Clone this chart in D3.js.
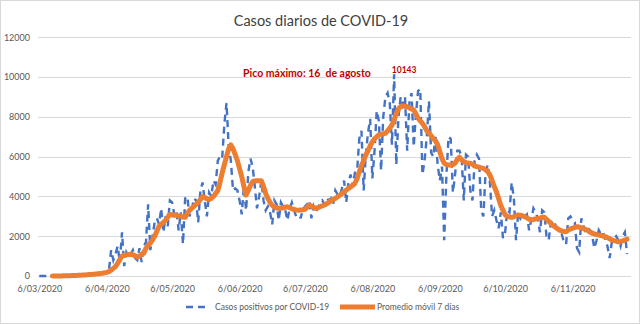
<!DOCTYPE html>
<html>
<head>
<meta charset="utf-8">
<script src="https://cdn.jsdelivr.net/npm/d3@7"></script>
<style>
  body { margin: 0; background: #fff; }
  text { font-family: Lato, "Open Sans", sans-serif; }
</style>
</head>
<body>
<div id="chart"></div>
<script>
// global sizes
var width = 640,
    height = 324;

// data, one value per day starting 6/03/2020
var startDay = "2020-03-06";

var casos = [
  0, 0, 0, 0, 1, 1,
  2, 3, 5, 6, 8, 10, 12, 15,
  18, 22, 28, 33, 40, 45, 52,
  60, 65, 75, 88, 95, 105, 120,
  130, 150, 180, 200, 300, 1300, 800,
  1100, 1500, 700, 2200, 500, 1200, 1000,
  1100, 1300, 900, 800, 1400, 700, 1500,
  1700, 3600, 1300, 2000, 2700, 2900, 2600,
  3400, 2200, 3000, 2500, 3800, 3700, 3100,
  3300, 2300, 3200, 1600, 3900, 4000, 3000,
  3300, 3900, 3800, 2700, 4300, 4700, 3800,
  3000, 4200, 4000, 4800, 4600, 5800, 6000,
  5900, 7600, 8700, 6500, 5800, 4300, 4400,
  4300, 3800, 3100, 4500, 3300, 5200, 5900,
  5500, 4500, 3400, 4000, 4800, 3800, 3300,
  3500, 3200, 2600, 3800, 3600, 2800, 3700,
  3500, 3300, 2800, 3400, 3700, 3300, 3000,
  3400, 2900, 3300, 3500, 3600, 3800, 2900,
  3500, 3200, 3400, 3700, 3800, 3600, 3900,
  3800, 3900, 3600, 4300, 4100, 4000, 4400,
  4800, 3700, 4700, 5100, 4500, 5200, 5300,
  6900, 7300, 4300, 6100, 7200, 7900, 4900,
  6300, 8300, 7800, 5300, 8000, 9000, 9200,
  8700, 6600, 10143, 5600, 8000, 9000, 8600,
  9000, 6300, 8700, 9200, 6500, 8100, 9300,
  9400, 5100, 5800, 7000, 8800, 6200, 6000,
  7000, 5600, 4800, 5500, 1800, 5000, 7000,
  6900, 4200, 5100, 6300, 6300, 6000, 3800,
  6100, 6000, 4300, 3800, 5800, 6100, 5900,
  3300, 3000, 5200, 5600, 4700, 3000, 3300,
  2800, 2400, 3200, 1900, 2200, 3300, 3200,
  4700, 3900, 1800, 3200, 2900, 3100, 3000,
  3100, 2300, 2800, 3400, 3200, 2900, 2200,
  3300, 3200, 2000, 1800, 2700, 2800, 2600,
  2400, 2200, 2100, 1700, 1600, 2900, 3000,
  2800, 2700, 1400, 1200, 2900, 2500, 2200,
  2400, 2300, 2000, 1400, 1800, 2300, 2100,
  2200, 1800, 1500, 900, 1700, 1900, 2000,
  1800, 1500, 2000, 2200, 1100
];

var promedio = [
  null, null, null, null, null, null,
  0, 1, 2, 3, 5, 7, 9, 12,
  15, 19, 24, 29, 35, 41, 48,
  55, 62, 70, 80, 90, 100, 112,
  125, 140, 160, 185, 220, 290, 380,
  470, 640, 830, 1000, 1040, 1060, 1080,
  1090, 1070, 1020, 950, 1000, 1100, 1150,
  1400, 1550, 1650, 1820, 2000, 2250, 2500,
  2600, 2700, 2800, 2950, 3100, 3080, 3050,
  3050, 3020, 3000, 2970, 2950, 3150, 3300,
  3400, 3500, 3600, 3700, 3850, 4000, 3950,
  3880, 3850, 3900, 4000, 4150, 4300, 4700,
  5180, 5600, 6000, 6400, 6590, 6400, 6100,
  5800, 5400, 5000, 4500, 4070, 4300, 4550,
  4740, 4780, 4790, 4790, 4790, 4500, 4150,
  3900, 3700, 3550, 3480, 3420, 3400, 3400,
  3430, 3460, 3480, 3440, 3380, 3340, 3320,
  3310, 3320, 3330, 3350, 3450, 3570, 3520,
  3450, 3400, 3430, 3480, 3530, 3570, 3630,
  3700, 3780, 3850, 3900, 3980, 4060, 4140,
  4240, 4320, 4400, 4480, 4560, 4660, 4900,
  5240, 5550, 5800, 6080, 6300, 6550, 6750,
  6900, 7000, 7090, 7120, 7150, 7170, 7300,
  7430, 7590, 7850, 8180, 8400, 8520, 8550,
  8530, 8510, 8450, 8400, 8350, 8150, 7930,
  7800, 7680, 7500, 7300, 7200, 7050, 6900,
  6800, 6600, 6250, 5900, 5670, 5600, 5580,
  5580, 5600, 5670, 5850, 5970, 5850, 5750,
  5700, 5680, 5670, 5620, 5530, 5500, 5470,
  5440, 5410, 5350, 5250, 5080, 4800, 4500,
  4240, 3900, 3550, 3300, 3070, 3000, 2970,
  2950, 2980, 3030, 3070, 3060, 3020, 2980,
  2920, 2860, 2820, 2840, 2870, 2900, 2920,
  2950, 2950, 2850, 2750, 2650, 2550, 2460,
  2380, 2310, 2270, 2240, 2230, 2300, 2370,
  2400, 2440, 2480, 2460, 2420, 2380, 2340,
  2280, 2210, 2150, 2120, 2080, 2060, 2040,
  2000, 1980, 1930, 1870, 1810, 1780, 1750,
  1720, 1740, 1770, 1810, 1850
];

var xTickLabels = ["6/03/2020", "6/04/2020", "6/05/2020", "6/06/2020", "6/07/2020",
                   "6/08/2020", "6/09/2020", "6/10/2020", "6/11/2020"];
var yTicks = [0, 2000, 4000, 6000, 8000, 10000, 12000];
var seriesNames = ["Casos positivos por COVID-19", "Promedio móvil 7 días"];
var titulo = "Casos diarios de COVID-19";
var nota = "Pico máximo: 16\u00a0 de agosto";

// colours
var blue = "#4472c4",
    orange = "#ed7d31",
    grey = "#595959";

// dates of each value
var parseIso = d3.utcParse("%Y-%m-%d");
var parseTick = d3.utcParse("%d/%m/%Y");
var t0 = parseIso(startDay);
var dias = casos.map(function(v, i){ return d3.utcDay.offset(t0, i); });
var tickDates = xTickLabels.map(parseTick);

// scales
var x = d3.scaleUtc()
    .domain([t0, d3.utcDay.offset(t0, 272)])
    .range([39.3, 631.4]);

var y = d3.scaleLinear()
    .domain([0, 12000])
    .range([276, 37.3]);

var svg = d3.select("#chart").append("svg")
    .attr("width", width)
    .attr("height", height);

// chart border
svg.append("rect")
    .attr("x", 0.5).attr("y", 0.5)
    .attr("width", width - 1).attr("height", height - 1)
    .attr("fill", "#fff")
    .attr("stroke", "#d9d9d9");

// title
svg.append("text")
    .attr("x", 321).attr("y", 26)
    .attr("text-anchor", "middle")
    .attr("font-size", 14.5)
    .attr("fill", "#404040")
    .text(titulo);

// gridlines
svg.append("g")
    .selectAll("line")
    .data(yTicks)
  .enter().append("line")
    .attr("x1", 38).attr("x2", 631)
    .attr("y1", function(d){ return Math.round(y(d)) + 0.5; })
    .attr("y2", function(d){ return Math.round(y(d)) + 0.5; })
    .attr("stroke", "#d9d9d9")
    .attr("stroke-width", 1);

// y axis labels
var yAxis = d3.axisLeft(y)
    .tickValues(yTicks)
    .tickSize(0)
    .tickPadding(8)
    .tickFormat(d3.format("d"));

var gy = svg.append("g")
    .attr("transform", "translate(38,0)")
    .call(yAxis);
gy.select(".domain").remove();
gy.selectAll("text")
    .attr("fill", grey)
    .attr("font-size", 9)
    .attr("font-family", "Lato, sans-serif");

// x axis
var xAxis = d3.axisBottom(x)
    .tickValues(tickDates)
    .tickSize(0)
    .tickPadding(9)
    .tickFormat(function(d, i){ return xTickLabels[i]; });

var gx = svg.append("g")
    .attr("transform", "translate(0,276.5)")
    .call(xAxis);
gx.select(".domain")
    .attr("stroke", "#d9d9d9")
    .attr("d", "M38,0H631");
gx.selectAll("text")
    .attr("fill", grey)
    .attr("font-size", 9)
    .attr("font-family", "Lato, sans-serif");

// daily cases line
var lineCasos = d3.line()
    .defined(function(d){ return d != null; })
    .x(function(d, i){ return x(dias[i]); })
    .y(function(d){ return y(d); });

svg.append("path")
    .datum(casos)
    .attr("d", lineCasos)
    .attr("fill", "none")
    .attr("stroke", blue)
    .attr("stroke-width", 2.4)
    .attr("stroke-dasharray", "7,5");

// 7 day average line
svg.append("path")
    .datum(promedio)
    .attr("d", lineCasos)
    .attr("fill", "none")
    .attr("stroke", orange)
    .attr("stroke-width", 5)
    .attr("stroke-linejoin", "round")
    .attr("stroke-linecap", "round");

// peak label
var iPico = casos.indexOf(d3.max(casos));
svg.append("text")
    .attr("x", x(dias[iPico]) + 10)
    .attr("y", y(casos[iPico]) - 1)
    .attr("text-anchor", "middle")
    .attr("font-size", 8.5)
    .attr("font-weight", "bold")
    .attr("fill", "#c00000")
    .text(d3.format("d")(casos[iPico]));

svg.append("text")
    .attr("x", 307).attr("y", 77)
    .attr("text-anchor", "middle")
    .attr("font-size", 10.5)
    .attr("font-weight", "bold")
    .attr("fill", "#c00000")
    .text(nota);

// legend
var legend = svg.append("g").attr("transform", "translate(0,307)");
legend.append("line")
    .attr("x1", 186).attr("x2", 208)
    .attr("y1", 0).attr("y2", 0)
    .attr("stroke", blue)
    .attr("stroke-width", 2.4)
    .attr("stroke-dasharray", "7,5");
legend.append("text")
    .attr("x", 215).attr("y", 3)
    .attr("font-size", 8.5)
    .attr("fill", grey)
    .text(seriesNames[0]);
legend.append("line")
    .attr("x1", 340).attr("x2", 375)
    .attr("y1", 0).attr("y2", 0)
    .attr("stroke", orange)
    .attr("stroke-width", 5);
legend.append("text")
    .attr("x", 377).attr("y", 3)
    .attr("font-size", 8.5)
    .attr("fill", grey)
    .text(seriesNames[1]);
</script>
</body>
</html>
